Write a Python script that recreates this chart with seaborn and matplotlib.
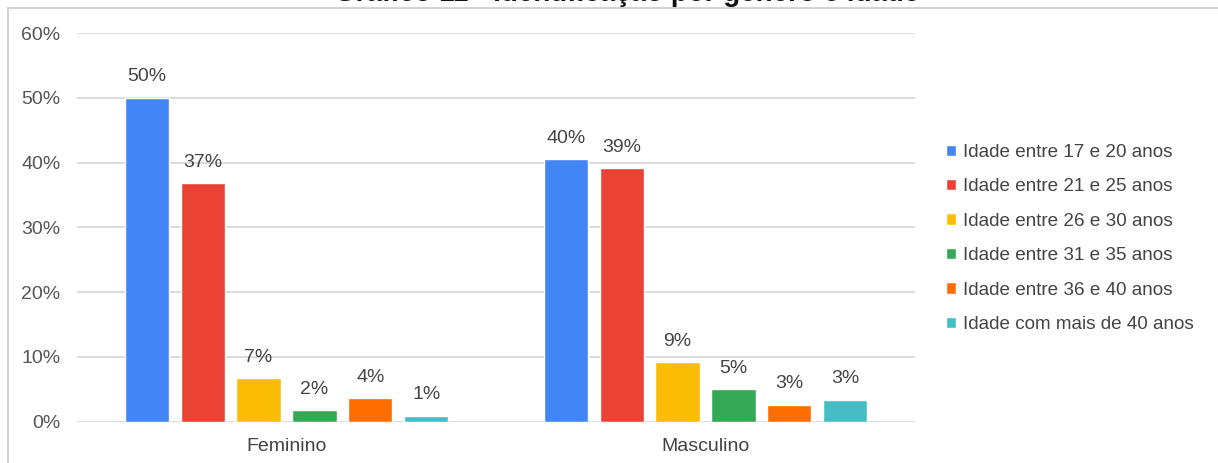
import matplotlib
matplotlib.use("Agg")
import matplotlib.pyplot as plt
import matplotlib.patches as mpatches
import seaborn as sns
import pandas as pd

# Data: share of respondents by gender and age bracket (percent)
generos = ["Feminino", "Masculino"]
faixas = [
    "Idade entre 17 e 20 anos",
    "Idade entre 21 e 25 anos",
    "Idade entre 26 e 30 anos",
    "Idade entre 31 e 35 anos",
    "Idade entre 36 e 40 anos",
    "Idade com mais de 40 anos",
]
feminino = [50.0, 36.8, 6.7, 1.8, 3.6, 0.9]
masculino = [40.5, 39.1, 9.2, 5.0, 2.6, 3.4]
cores = ["#4285F4", "#EA4335", "#FBBC04", "#34A853", "#FF6D01", "#46BDC6"]
titulo = "Gráfico 11 - Identificação por gênero e idade"
yticks = [0, 10, 20, 30, 40, 50, 60]

rows = []
for g, vals in zip(generos, [feminino, masculino]):
    for f, v in zip(faixas, vals):
        rows.append({"Gênero": g, "Faixa": f, "Percentual": v})
df = pd.DataFrame(rows)

sns.set_theme(style="white")
plt.rcParams["font.family"] = ["Liberation Sans", "DejaVu Sans"]

W, H = 1218, 463
FS = 14
fig = plt.figure(figsize=(W / 100, H / 100), dpi=100)
ax = fig.add_axes([77 / W, 1 - 421.7 / H, (915 - 77) / W, (421.7 - 33) / H])

sns.barplot(
    data=df, x="Gênero", y="Percentual", hue="Faixa",
    order=generos, hue_order=faixas, palette=cores,
    width=0.8, gap=0.21, saturation=1, ax=ax, legend=True,
)

for cont in ax.containers:
    ax.bar_label(cont, fmt="{:.0f}%", padding=9, fontsize=FS, color="#444444")

ax.set_ylim(0, 60)
ax.set_xlim(-0.5, 1.5)
ax.set_yticks(yticks)
ax.set_yticklabels([f"{t}%" for t in yticks])
ax.set_xlabel("")
ax.set_ylabel("")
ax.yaxis.grid(True, color="#d9d9d9", linewidth=1.3)
ax.set_axisbelow(True)
for s in ax.spines.values():
    s.set_visible(False)
ax.tick_params(axis="y", length=0, pad=12, labelsize=FS, labelcolor="#555555")
ax.tick_params(axis="x", length=0, pad=12, labelsize=FS, labelcolor="#444444")

handles, labels = ax.get_legend_handles_labels()
ax.legend(
    handles, labels, loc="center left", bbox_to_anchor=(946 / W, 1 - 238.5 / H),
    bbox_transform=fig.transFigure, frameon=False, fontsize=13.6,
    handlelength=0.55, handleheight=0.55, handletextpad=0.35, labelspacing=0.92,
    labelcolor="#444444", borderaxespad=0, borderpad=0,
)

# outer frame of the chart card
fig.patches.append(mpatches.Rectangle(
    (8 / W, -0.1), (W - 8.5) / W - 8 / W + 0.01, 1.1 - 8.5 / H,
    transform=fig.transFigure, fill=False, edgecolor="#d4d4d4", linewidth=1.5,
))

fig.text(627 / W, 1 - 1 / H, titulo, ha="center", va="baseline",
         fontsize=20, fontweight="bold", color="#111111")

fig.savefig("out.png", dpi=100)
